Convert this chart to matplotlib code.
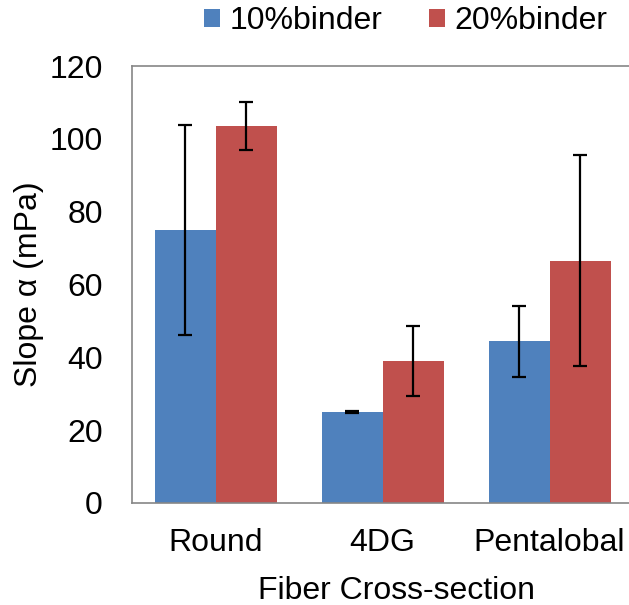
import numpy as np
import matplotlib
matplotlib.use("Agg")
import matplotlib.pyplot as plt

# slope alpha for each fiber cross-section and binder fraction
categories = ["Round", "4DG", "Pentalobal"]
binder10 = [75.0, 24.9, 44.4]
binder10_err = [28.8, 0.3, 9.7]
binder20 = [103.5, 39.0, 66.5]
binder20_err = [6.5, 9.6, 29.0]
series = ["10%binder", "20%binder"]

plt.rcParams.update({"font.family": "Liberation Sans", "font.size": 23})

fig = plt.figure(figsize=(6.29, 6.05), dpi=100)
ax = fig.add_axes([0.21, 0.1686, 0.7965, 0.7223])

x = np.arange(len(categories))
w = 0.365
errkw = dict(ecolor="black", elinewidth=1.6, capsize=5, capthick=1.6)
ax.bar(x - w / 2, binder10, w, yerr=binder10_err, color="#4F81BD",
       label=series[0], error_kw=errkw)
ax.bar(x + w / 2, binder20, w, yerr=binder20_err, color="#C0504D",
       label=series[1], error_kw=errkw)

ax.set_xlim(-0.5, 2.5)
ax.set_ylim(0, 120)
ax.set_yticks(np.arange(0, 121, 20))
ax.set_xticks(x)
ax.set_xticklabels(categories)
ax.tick_params(axis="y", length=0, pad=21)
ax.tick_params(axis="x", length=0, pad=18)
for s in ax.spines.values():
    s.set_color("#868686")
    s.set_linewidth(1.2)

ax.set_ylabel("Slope \u03b1 (mPa)", labelpad=4)
ax.set_xlabel("Fiber Cross-section")
# centre the axis title under the visible part of the plot
ax.xaxis.set_label_coords(0.527, -0.168)

fig.legend(loc="center", bbox_to_anchor=(0.645, 0.965), ncol=2, frameon=False,
           handlelength=0.5, handleheight=0.5, handletextpad=0.31,
           columnspacing=1.44, borderaxespad=0, borderpad=0)

fig.savefig("out.png", dpi=100)
